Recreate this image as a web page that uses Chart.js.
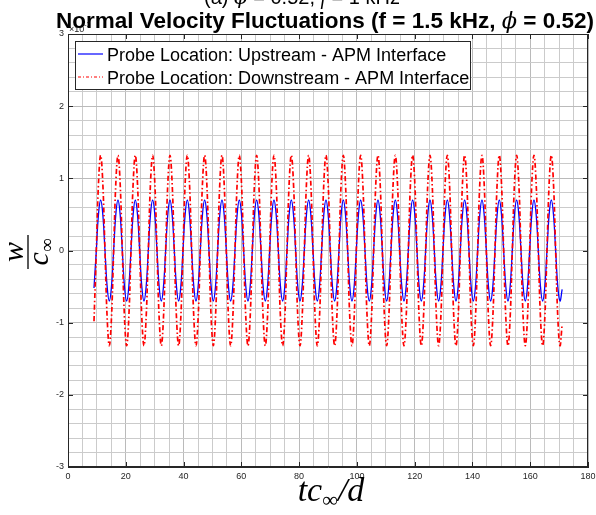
<!DOCTYPE html>
<html>
<head>
<meta charset="utf-8">
<script src="https://cdn.jsdelivr.net/npm/chart.js@4/dist/chart.umd.min.js"></script>
<style>
  html, body { margin: 0; padding: 0; background: #fff; }
</style>
</head>
<body>
<canvas id="chart_velocity" width="596" height="515"></canvas>
<script>
// tc/d sample points
var tcd = [
    9.0,
    9.8, 10.55, 11.3, 12.05, 12.8, 13.55, 14.3, 15.05,
    15.8, 16.55, 17.3, 18.05, 18.8, 19.55, 20.3, 21.05,
    21.8, 22.55, 23.3, 24.05, 24.8, 25.55, 26.3, 27.05,
    27.8, 28.55, 29.3, 30.05, 30.8, 31.55, 32.3, 33.05,
    33.8, 34.55, 35.3, 36.05, 36.8, 37.55, 38.3, 39.05,
    39.8, 40.55, 41.3, 42.05, 42.8, 43.55, 44.3, 45.05,
    45.8, 46.55, 47.3, 48.05, 48.8, 49.55, 50.3, 51.05,
    51.8, 52.55, 53.3, 54.05, 54.8, 55.55, 56.3, 57.05,
    57.8, 58.55, 59.3, 60.05, 60.8, 61.55, 62.3, 63.05,
    63.8, 64.55, 65.3, 66.05, 66.8, 67.55, 68.3, 69.05,
    69.8, 70.55, 71.3, 72.05, 72.8, 73.55, 74.3, 75.05,
    75.8, 76.55, 77.3, 78.05, 78.8, 79.55, 80.3, 81.05,
    81.8, 82.55, 83.3, 84.05, 84.8, 85.55, 86.3, 87.05,
    87.8, 88.55, 89.3, 90.05, 90.8, 91.55, 92.3, 93.05,
    93.8, 94.55, 95.3, 96.05, 96.8, 97.55, 98.3, 99.05,
    99.8, 100.55, 101.3, 102.05, 102.8, 103.55, 104.3, 105.05,
    105.8, 106.55, 107.3, 108.05, 108.8, 109.55, 110.3, 111.05,
    111.8, 112.55, 113.3, 114.05, 114.8, 115.55, 116.3, 117.05,
    117.8, 118.55, 119.3, 120.05, 120.8, 121.55, 122.3, 123.05,
    123.8, 124.55, 125.3, 126.05, 126.8, 127.55, 128.3, 129.05,
    129.8, 130.55, 131.3, 132.05, 132.8, 133.55, 134.3, 135.05,
    135.8, 136.55, 137.3, 138.05, 138.8, 139.55, 140.3, 141.05,
    141.8, 142.55, 143.3, 144.05, 144.8, 145.55, 146.3, 147.05,
    147.8, 148.55, 149.3, 150.05, 150.8, 151.55, 152.3, 153.05,
    153.8, 154.55, 155.3, 156.05, 156.8, 157.55, 158.3, 159.05,
    159.8, 160.55, 161.3, 162.05, 162.8, 163.55, 164.3, 165.05,
    165.8, 166.55, 167.3, 168.05, 168.8, 169.55, 170.3, 171.05
];

// w / c_inf in units of 1e-3
var wUpstream = [
    -0.52,
    0, 0.5, 0.7, 0.5, 0, -0.5, -0.7, -0.5,
    0, 0.5, 0.7, 0.5, 0, -0.5, -0.7, -0.5,
    0, 0.5, 0.7, 0.5, 0, -0.5, -0.7, -0.5,
    0, 0.5, 0.7, 0.5, 0, -0.5, -0.7, -0.5,
    0, 0.5, 0.7, 0.5, 0, -0.5, -0.7, -0.5,
    0, 0.5, 0.7, 0.5, 0, -0.5, -0.7, -0.5,
    0, 0.5, 0.7, 0.5, 0, -0.5, -0.7, -0.5,
    0, 0.5, 0.7, 0.5, 0, -0.5, -0.7, -0.5,
    0, 0.5, 0.7, 0.5, 0, -0.5, -0.7, -0.5,
    0, 0.5, 0.7, 0.5, 0, -0.5, -0.7, -0.5,
    0, 0.5, 0.7, 0.5, 0, -0.5, -0.7, -0.5,
    0, 0.5, 0.7, 0.5, 0, -0.5, -0.7, -0.5,
    0, 0.5, 0.7, 0.5, 0, -0.5, -0.7, -0.5,
    0, 0.5, 0.7, 0.5, 0, -0.5, -0.7, -0.5,
    0, 0.5, 0.7, 0.5, 0, -0.5, -0.7, -0.5,
    0, 0.5, 0.7, 0.5, 0, -0.5, -0.7, -0.5,
    0, 0.5, 0.7, 0.5, 0, -0.5, -0.7, -0.5,
    0, 0.5, 0.7, 0.5, 0, -0.5, -0.7, -0.5,
    0, 0.5, 0.7, 0.5, 0, -0.5, -0.7, -0.5,
    0, 0.5, 0.7, 0.5, 0, -0.5, -0.7, -0.5,
    0, 0.5, 0.7, 0.5, 0, -0.5, -0.7, -0.5,
    0, 0.5, 0.7, 0.5, 0, -0.5, -0.7, -0.5,
    0, 0.5, 0.7, 0.5, 0, -0.5, -0.7, -0.5,
    0, 0.5, 0.7, 0.5, 0, -0.5, -0.7, -0.5,
    0, 0.5, 0.7, 0.5, 0, -0.5, -0.7, -0.5,
    0, 0.5, 0.7, 0.5, 0, -0.5, -0.7, -0.5,
    0, 0.5, 0.7, 0.5, 0, -0.5, -0.7, -0.54
];

var wDownstream = [
    -0.98,
    0, 0.93, 1.32, 0.93, 0, -0.93, -1.32, -0.93,
    0, 0.93, 1.32, 0.93, 0, -0.93, -1.32, -0.93,
    0, 0.93, 1.32, 0.93, 0, -0.93, -1.32, -0.93,
    0, 0.93, 1.32, 0.93, 0, -0.93, -1.32, -0.93,
    0, 0.93, 1.32, 0.93, 0, -0.93, -1.32, -0.93,
    0, 0.93, 1.32, 0.93, 0, -0.93, -1.32, -0.93,
    0, 0.93, 1.32, 0.93, 0, -0.93, -1.32, -0.93,
    0, 0.93, 1.32, 0.93, 0, -0.93, -1.32, -0.93,
    0, 0.93, 1.32, 0.93, 0, -0.93, -1.32, -0.93,
    0, 0.93, 1.32, 0.93, 0, -0.93, -1.32, -0.93,
    0, 0.93, 1.32, 0.93, 0, -0.93, -1.32, -0.93,
    0, 0.93, 1.32, 0.93, 0, -0.93, -1.32, -0.93,
    0, 0.93, 1.32, 0.93, 0, -0.93, -1.32, -0.93,
    0, 0.93, 1.32, 0.93, 0, -0.93, -1.32, -0.93,
    0, 0.93, 1.32, 0.93, 0, -0.93, -1.32, -0.93,
    0, 0.93, 1.32, 0.93, 0, -0.93, -1.32, -0.93,
    0, 0.93, 1.32, 0.93, 0, -0.93, -1.32, -0.93,
    0, 0.93, 1.32, 0.93, 0, -0.93, -1.32, -0.93,
    0, 0.93, 1.32, 0.93, 0, -0.93, -1.32, -0.93,
    0, 0.93, 1.32, 0.93, 0, -0.93, -1.32, -0.93,
    0, 0.93, 1.32, 0.93, 0, -0.93, -1.32, -0.93,
    0, 0.93, 1.32, 0.93, 0, -0.93, -1.32, -0.93,
    0, 0.93, 1.32, 0.93, 0, -0.93, -1.32, -0.93,
    0, 0.93, 1.32, 0.93, 0, -0.93, -1.32, -0.93,
    0, 0.93, 1.32, 0.93, 0, -0.93, -1.32, -0.93,
    0, 0.93, 1.32, 0.93, 0, -0.93, -1.32, -0.93,
    0, 0.93, 1.32, 0.93, 0, -0.93, -1.32, -1.02
];

var seriesLabels = [
    'Probe Location: Upstream - APM Interface',
    'Probe Location: Downstream - APM Interface'
];

var SANS = "'Liberation Sans', Arial, Helvetica, sans-serif";
var SERIF = "'Liberation Serif', 'DejaVu Serif', serif";
var PHI = "'DejaVu Serif', serif";
var AXIS_COLOR = '#262626';

function points(ys) {
    return tcd.map(function(x, i) { return { x: x, y: ys[i] }; });
}

// draws a line of text made of differently styled pieces, centred on cx
function drawRuns(ctx, runs, cx, y) {
    var total = 0;
    runs.forEach(function(r) { ctx.font = r[1]; total += ctx.measureText(r[0]).width; });
    var x = cx - total / 2;
    ctx.textAlign = 'left';
    ctx.textBaseline = 'alphabetic';
    runs.forEach(function(r) {
        ctx.font = r[1];
        ctx.fillText(r[0], x, y + (r[2] || 0));
        x += ctx.measureText(r[0]).width;
    });
}

function zeroPadding(scale) {
    scale.paddingLeft = 0;
    scale.paddingRight = 0;
    scale.paddingTop = 0;
    scale.paddingBottom = 0;
}

function dropMajor(step) {
    return function(scale) {
        scale.ticks = scale.ticks.filter(function(t) {
            var r = t.value / step;
            return Math.abs(r - Math.round(r)) > 1e-6;
        });
    };
}

var chart_velocity = new Chart(document.getElementById('chart_velocity'), {
    type: 'line',
    data: {
        datasets: [
            {
                label: seriesLabels[0],
                data: points(wUpstream),
                borderColor: '#0000ff',
                borderWidth: 1.3,
                pointRadius: 0,
                tension: 0.4,
                order: 1
            },
            {
                label: seriesLabels[1],
                data: points(wDownstream),
                borderColor: '#ff0000',
                borderWidth: 1.7,
                borderDash: [5, 2.5, 1.5, 2.5],
                pointRadius: 0,
                tension: 0.4,
                order: 0
            }
        ]
    },
    options: {
        animation: false,
        responsive: false,
        events: [],
        layout: {
            padding: { left: 38, right: 8, top: 34, bottom: 28 }
        },
        plugins: {
            legend: { display: false },
            title: { display: false },
            tooltip: { enabled: false }
        },
        scales: {
            x: {
                type: 'linear',
                position: 'bottom',
                min: 0,
                max: 180,
                ticks: {
                    stepSize: 20,
                    padding: 4,
                    maxRotation: 0,
                    color: AXIS_COLOR,
                    font: { family: SANS, size: 9 }
                },
                grid: { color: '#bababa', drawTicks: false },
                border: { display: true, color: AXIS_COLOR },
                afterFit: function(scale) { scale.height = 20; zeroPadding(scale); }
            },
            xMinor: {
                type: 'linear',
                position: 'top',
                min: 0,
                max: 180,
                ticks: { stepSize: 5, display: false },
                grid: { color: '#cbcbcb', drawTicks: false },
                border: { display: false },
                afterBuildTicks: dropMajor(20),
                afterFit: function(scale) { scale.height = 0; zeroPadding(scale); }
            },
            y: {
                type: 'linear',
                position: 'left',
                min: -3,
                max: 3,
                ticks: {
                    stepSize: 1,
                    padding: 4,
                    color: AXIS_COLOR,
                    font: { family: SANS, size: 9 }
                },
                grid: { color: '#bababa', drawTicks: false },
                border: { display: true, color: AXIS_COLOR },
                afterFit: function(scale) { scale.width = 30; zeroPadding(scale); }
            },
            yMinor: {
                type: 'linear',
                position: 'right',
                min: -3,
                max: 3,
                ticks: { stepSize: 0.2, display: false },
                grid: { color: '#cbcbcb', drawTicks: false },
                border: { display: false },
                afterBuildTicks: dropMajor(1),
                afterFit: function(scale) { scale.width = 0; zeroPadding(scale); }
            }
        }
    },
    plugins: [{
        id: 'whiteBackground',
        beforeDraw: function(chart) {
            var ctx = chart.ctx;
            ctx.save();
            ctx.fillStyle = '#fff';
            ctx.fillRect(0, 0, chart.width, chart.height);
            ctx.restore();
        }
    }, {
        id: 'axesBox',
        afterDatasetsDraw: function(chart) {
            var ctx = chart.ctx, a = chart.chartArea;
            var xs = chart.scales.x, ys = chart.scales.y;
            ctx.save();
            ctx.strokeStyle = AXIS_COLOR;
            ctx.lineWidth = 1;
            ctx.setLineDash([]);
            ctx.strokeRect(Math.round(a.left) + 0.5, Math.round(a.top) + 0.5,
                Math.round(a.right - a.left) - 1, Math.round(a.bottom - a.top) - 1);
            // inward tick marks on all four sides
            ctx.beginPath();
            xs.ticks.forEach(function(t) {
                var px = Math.round(xs.getPixelForValue(t.value)) + 0.5;
                ctx.moveTo(px, a.bottom); ctx.lineTo(px, a.bottom - 5);
                ctx.moveTo(px, a.top); ctx.lineTo(px, a.top + 5);
            });
            ys.ticks.forEach(function(t) {
                var py = Math.round(ys.getPixelForValue(t.value)) + 0.5;
                ctx.moveTo(a.left, py); ctx.lineTo(a.left + 5, py);
                ctx.moveTo(a.right, py); ctx.lineTo(a.right - 5, py);
            });
            ctx.stroke();

            // legend box in the upper left of the axes
            var lx = 75.5, ly = 41.5, lw = 395, lh = 48;
            ctx.fillStyle = '#fff';
            ctx.fillRect(lx, ly, lw, lh);
            ctx.strokeStyle = AXIS_COLOR;
            ctx.strokeRect(lx, ly, lw, lh);
            chart.data.datasets.forEach(function(ds, i) {
                var rowY = 54 + i * 23;
                ctx.strokeStyle = ds.borderColor;
                ctx.lineWidth = 1.2;
                ctx.setLineDash(ds.borderDash ? [3, 2, 1, 2] : []);
                ctx.beginPath();
                ctx.moveTo(78, rowY);
                ctx.lineTo(103, rowY);
                ctx.stroke();
                ctx.setLineDash([]);
                ctx.fillStyle = '#000';
                ctx.font = '18px ' + SANS;
                ctx.textAlign = 'left';
                ctx.textBaseline = 'alphabetic';
                ctx.fillText(ds.label, 107, rowY + 6.5);
            });
            ctx.restore();
        }
    }, {
        id: 'figureText',
        afterDraw: function(chart) {
            var ctx = chart.ctx, a = chart.chartArea;
            var cx = (a.left + a.right) / 2;
            ctx.save();

            // upper caption, mostly cut off by the figure edge
            ctx.fillStyle = '#000';
            drawRuns(ctx, [
                ['(a) ', '20px ' + SANS],
                ['\u03D5', 'italic 20px ' + PHI],
                [' = 0.52, ', '20px ' + SANS],
                ['f', 'italic 20px ' + SERIF],
                [' = 1 kHz', '20px ' + SANS]
            ], chart.width / 2 + 4, 4);

            // axis exponent
            ctx.fillStyle = AXIS_COLOR;
            ctx.font = '9px ' + SANS;
            ctx.textAlign = 'left';
            ctx.fillText('\u00D710', a.left + 1, a.top - 2);
            var ew = ctx.measureText('\u00D710').width;
            ctx.font = '7px ' + SANS;
            ctx.fillText('-3', a.left + 1 + ew, a.top - 7);

            // title
            ctx.fillStyle = '#000';
            drawRuns(ctx, [
                ['Normal Velocity Fluctuations (f = 1.5 kHz, ', 'bold 22.5px ' + SANS],
                ['\u03D5', 'italic 22.5px ' + PHI],
                [' = 0.52)', 'bold 22.5px ' + SANS]
            ], 325, 28);

            // x axis label
            drawRuns(ctx, [
                ['tc', 'italic 34px ' + SERIF],
                ['\u221E', '22px ' + SERIF, 6],
                ['/d', 'italic 34px ' + SERIF]
            ], cx + 3, 501);

            // y axis label, a fraction written sideways
            ctx.translate(28, 252);
            ctx.rotate(-Math.PI / 2);
            drawRuns(ctx, [['w', 'italic 30px ' + SERIF]], 0, -5);
            ctx.strokeStyle = '#000';
            ctx.lineWidth = 1.3;
            ctx.beginPath();
            ctx.moveTo(-17, 0);
            ctx.lineTo(17, 0);
            ctx.stroke();
            drawRuns(ctx, [
                ['c', 'italic 30px ' + SERIF],
                ['\u221E', '19px ' + SERIF, 5]
            ], 0, 20);
            ctx.restore();
        }
    }]
});
</script>
</body>
</html>
